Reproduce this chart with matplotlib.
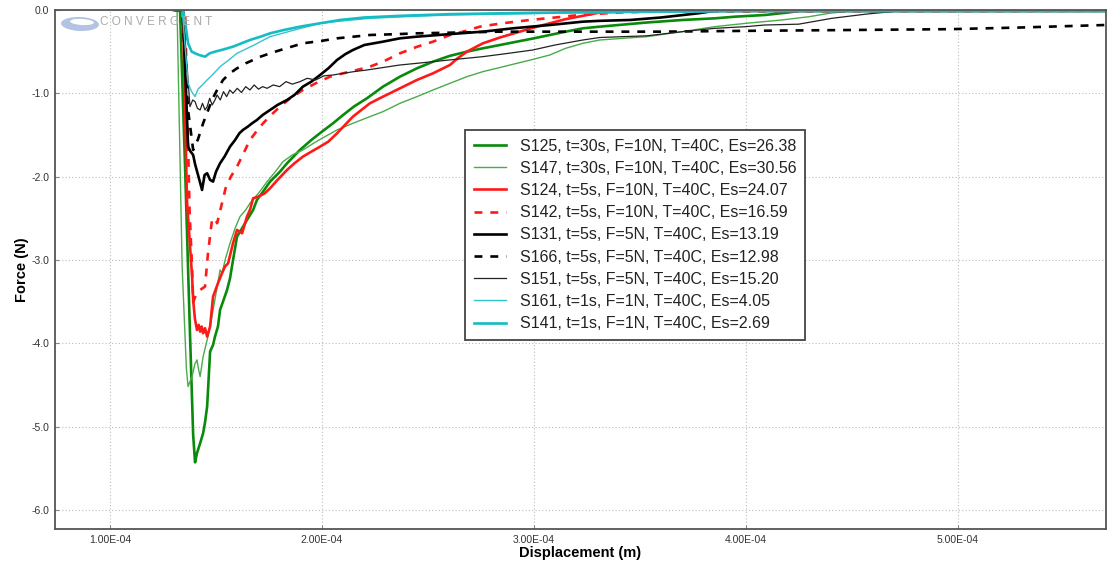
import matplotlib
matplotlib.use("Agg")
import matplotlib.pyplot as plt
from matplotlib.ticker import FuncFormatter, FixedLocator
from matplotlib.patches import Ellipse
import numpy as np

plt.rcParams['font.family'] = ['Liberation Sans', 'DejaVu Sans']
plt.rcParams['axes.unicode_minus'] = False

# Displacement in units of 1e-4 m, force in N
s125_x = [1.300, 1.330, 1.354, 1.377, 1.392, 1.401, 1.410, 1.415, 1.425, 1.439, 1.448, 1.458, 1.472, 1.486,
          1.495, 1.509, 1.519, 1.533, 1.552, 1.566, 1.575, 1.599, 1.623, 1.646, 1.675, 1.693, 1.722, 1.755,
          1.802, 1.835, 1.896, 1.950, 2.000, 2.052, 2.100, 2.150, 2.212, 2.288, 2.368, 2.448, 2.524, 2.604,
          2.684, 2.759, 2.840, 2.920, 3.000, 3.075, 3.150, 3.231, 3.311, 3.400, 3.533, 3.700, 3.854, 3.950,
          4.090, 4.200, 4.255, 5.698]
s125_y = [0.00, 0.00, -1.90, -3.88, -5.10, -5.43, -5.32, -5.28, -5.20, -5.08, -4.95, -4.76, -4.10, -4.02,
          -3.92, -3.80, -3.60, -3.50, -3.36, -3.22, -3.08, -2.72, -2.62, -2.52, -2.40, -2.28, -2.18, -2.06,
          -1.94, -1.84, -1.68, -1.56, -1.46, -1.36, -1.26, -1.16, -1.06, -0.92, -0.80, -0.70, -0.62, -0.55,
          -0.50, -0.46, -0.42, -0.38, -0.34, -0.30, -0.26, -0.22, -0.20, -0.18, -0.15, -0.12, -0.10, -0.08,
          -0.06, -0.03, -0.01, -0.01]

s147_x = [1.290, 1.316, 1.340, 1.360, 1.368, 1.377, 1.387, 1.400, 1.410, 1.418, 1.425, 1.439, 1.458, 1.472,
          1.486, 1.500, 1.519, 1.528, 1.545, 1.566, 1.590, 1.613, 1.640, 1.660, 1.700, 1.741, 1.780, 1.816,
          1.860, 1.910, 1.960, 2.000, 2.071, 2.146, 2.226, 2.288, 2.368, 2.448, 2.524, 2.604, 2.684, 2.759,
          2.840, 2.920, 3.000, 3.075, 3.150, 3.231, 3.311, 3.420, 3.533, 3.700, 3.854, 4.000, 4.170, 4.300,
          4.392, 4.500, 5.698]
s147_y = [0.00, 0.00, -3.08, -4.30, -4.52, -4.46, -4.40, -4.25, -4.20, -4.32, -4.40, -4.16, -3.96, -3.80,
          -3.60, -3.40, -3.12, -3.16, -2.98, -2.80, -2.62, -2.48, -2.40, -2.32, -2.20, -2.06, -1.94, -1.82,
          -1.74, -1.68, -1.60, -1.54, -1.44, -1.36, -1.28, -1.22, -1.12, -1.04, -0.96, -0.88, -0.80, -0.74,
          -0.69, -0.64, -0.59, -0.54, -0.46, -0.40, -0.36, -0.34, -0.32, -0.26, -0.20, -0.16, -0.12, -0.08,
          -0.04, -0.01, -0.01]

s124_x = [1.310, 1.344, 1.363, 1.387, 1.392, 1.400, 1.410, 1.418, 1.425, 1.432, 1.439, 1.448, 1.458, 1.465,
          1.472, 1.486, 1.509, 1.525, 1.542, 1.557, 1.580, 1.599, 1.623, 1.646, 1.660, 1.675, 1.700, 1.730,
          1.755, 1.790, 1.835, 1.870, 1.910, 1.950, 1.991, 2.030, 2.071, 2.146, 2.226, 2.288, 2.368, 2.448,
          2.524, 2.604, 2.640, 2.684, 2.759, 2.840, 2.920, 3.000, 3.075, 3.150, 3.231, 3.311, 3.500, 5.698]
s124_y = [0.00, 0.00, -2.30, -3.20, -3.48, -3.70, -3.84, -3.78, -3.86, -3.80, -3.88, -3.82, -3.92, -3.86,
          -3.80, -3.44, -3.28, -3.18, -3.08, -3.04, -2.80, -2.64, -2.68, -2.48, -2.40, -2.26, -2.24, -2.20,
          -2.14, -2.04, -1.92, -1.84, -1.76, -1.70, -1.64, -1.58, -1.48, -1.28, -1.12, -1.04, -0.94, -0.84,
          -0.76, -0.66, -0.58, -0.50, -0.40, -0.33, -0.27, -0.21, -0.16, -0.11, -0.07, -0.03, -0.01, -0.01]

s142_x = [1.310, 1.354, 1.375, 1.387, 1.392, 1.405, 1.425, 1.448, 1.462, 1.481, 1.495, 1.505, 1.528, 1.545,
          1.570, 1.599, 1.630, 1.660, 1.690, 1.722, 1.760, 1.802, 1.850, 1.910, 1.970, 2.038, 2.100, 2.165,
          2.226, 2.288, 2.368, 2.450, 2.524, 2.604, 2.680, 2.745, 2.850, 2.981, 3.100, 3.217, 3.400, 3.547,
          5.698]
s142_y = [0.00, 0.00, -2.40, -3.10, -3.51, -3.42, -3.36, -3.32, -2.92, -2.52, -2.50, -2.56, -2.32, -2.14,
          -2.00, -1.88, -1.72, -1.56, -1.46, -1.36, -1.26, -1.16, -1.06, -0.96, -0.88, -0.80, -0.76, -0.72,
          -0.68, -0.62, -0.52, -0.44, -0.38, -0.30, -0.25, -0.20, -0.16, -0.12, -0.09, -0.06, -0.03, -0.02,
          -0.01]

s131_x = [1.310, 1.344, 1.368, 1.380, 1.392, 1.401, 1.415, 1.434, 1.446, 1.458, 1.472, 1.486, 1.500, 1.519,
          1.540, 1.566, 1.590, 1.610, 1.627, 1.650, 1.670, 1.693, 1.720, 1.755, 1.790, 1.835, 1.870, 1.910,
          1.950, 1.991, 2.030, 2.071, 2.110, 2.146, 2.200, 2.288, 2.368, 2.448, 2.600, 2.759, 2.900, 3.075,
          3.231, 3.311, 3.453, 3.600, 3.774, 3.854, 5.698]
s131_y = [0.00, 0.00, -1.64, -1.70, -1.74, -1.85, -1.98, -2.16, -1.98, -1.96, -2.04, -2.06, -1.94, -1.84,
          -1.76, -1.64, -1.56, -1.48, -1.44, -1.40, -1.36, -1.32, -1.26, -1.20, -1.14, -1.08, -1.02, -0.92,
          -0.86, -0.78, -0.70, -0.60, -0.53, -0.48, -0.42, -0.38, -0.34, -0.32, -0.29, -0.26, -0.22, -0.18,
          -0.14, -0.13, -0.12, -0.09, -0.04, -0.01, -0.01]

s166_x = [1.300, 1.340, 1.368, 1.392, 1.415, 1.439, 1.460, 1.481, 1.505, 1.533, 1.565, 1.599, 1.640, 1.675,
          1.710, 1.755, 1.830, 1.910, 2.000, 2.071, 2.150, 2.226, 2.350, 2.448, 2.650, 2.840, 3.100, 3.311,
          3.600, 4.019, 4.500, 4.962, 5.300, 5.698]
s166_y = [0.00, 0.00, -1.20, -1.68, -1.55, -1.36, -1.22, -1.08, -0.96, -0.84, -0.76, -0.70, -0.64, -0.60,
          -0.56, -0.52, -0.46, -0.40, -0.37, -0.34, -0.32, -0.30, -0.29, -0.28, -0.27, -0.26, -0.26, -0.26,
          -0.26, -0.25, -0.24, -0.23, -0.21, -0.18]

s151_x = [1.300, 1.344, 1.377, 1.390, 1.401, 1.412, 1.425, 1.436, 1.448, 1.458, 1.470, 1.482, 1.495, 1.505,
          1.520, 1.535, 1.550, 1.565, 1.580, 1.600, 1.620, 1.640, 1.660, 1.680, 1.700, 1.720, 1.741, 1.770,
          1.800, 1.830, 1.860, 1.896, 1.930, 1.970, 2.010, 2.052, 2.100, 2.150, 2.212, 2.290, 2.368, 2.448,
          2.600, 2.759, 2.880, 2.995, 3.100, 3.231, 3.311, 3.420, 3.533, 3.700, 3.854, 4.000, 4.090, 4.250,
          4.406, 4.566, 4.726, 5.698]
s151_y = [0.00, 0.00, -1.16, -1.08, -1.10, -1.18, -1.20, -1.12, -1.20, -1.16, -1.06, -1.14, -1.08, -1.02,
          -1.08, -0.98, -1.04, -0.96, -1.00, -0.94, -0.99, -0.92, -0.96, -0.90, -0.95, -0.92, -0.94, -0.90,
          -0.92, -0.86, -0.89, -0.86, -0.82, -0.84, -0.79, -0.78, -0.76, -0.74, -0.72, -0.69, -0.66, -0.64,
          -0.60, -0.56, -0.52, -0.48, -0.42, -0.36, -0.33, -0.32, -0.31, -0.26, -0.22, -0.20, -0.18, -0.17,
          -0.10, -0.05, -0.01, -0.01]

s161_x = [1.300, 1.340, 1.368, 1.385, 1.401, 1.415, 1.435, 1.458, 1.490, 1.519, 1.560, 1.599, 1.680, 1.755,
          1.870, 1.991, 2.100, 2.226, 2.400, 2.604, 2.840, 3.075, 3.500, 4.000, 4.500, 5.698]
s161_y = [0.00, 0.00, -0.88, -0.98, -1.04, -0.95, -0.90, -0.84, -0.76, -0.68, -0.60, -0.52, -0.42, -0.32,
          -0.24, -0.16, -0.13, -0.10, -0.08, -0.06, -0.05, -0.04, -0.03, -0.02, -0.02, -0.02]

s141_x = [1.300, 1.344, 1.354, 1.368, 1.385, 1.401, 1.420, 1.448, 1.470, 1.495, 1.540, 1.580, 1.620, 1.660,
          1.710, 1.755, 1.820, 1.896, 1.990, 2.085, 2.200, 2.368, 2.600, 2.840, 3.100, 3.311, 4.000, 5.698]
s141_y = [0.00, 0.00, -0.14, -0.40, -0.50, -0.52, -0.54, -0.56, -0.52, -0.50, -0.47, -0.44, -0.40, -0.36,
          -0.32, -0.28, -0.24, -0.20, -0.16, -0.12, -0.09, -0.07, -0.05, -0.04, -0.03, -0.02, -0.01, -0.01]

labels = ["S125, t=30s, F=10N, T=40C, Es=26.38",
          "S147, t=30s, F=10N, T=40C, Es=30.56",
          "S124, t=5s, F=10N, T=40C, Es=24.07",
          "S142, t=5s, F=10N, T=40C, Es=16.59",
          "S131, t=5s, F=5N, T=40C, Es=13.19",
          "S166, t=5s, F=5N, T=40C, Es=12.98",
          "S151, t=5s, F=5N, T=40C, Es=15.20",
          "S161, t=1s, F=1N, T=40C, Es=4.05",
          "S141, t=1s, F=1N, T=40C, Es=2.69"]

x_ticks_e4 = [1, 2, 3, 4, 5]
y_ticks = [0.0, -1.0, -2.0, -3.0, -4.0, -5.0, -6.0]

series = [
    (s125_x, s125_y, dict(color='#0a8a0a', lw=1.9, ls='-')),
    (s147_x, s147_y, dict(color='#4aab4a', lw=1.0, ls='-')),
    (s124_x, s124_y, dict(color='#ff1a1a', lw=1.9, ls='-')),
    (s142_x, s142_y, dict(color='#ff1a1a', lw=1.9, ls=(0, (3, 3)))),
    (s131_x, s131_y, dict(color='#000000', lw=1.9, ls='-')),
    (s166_x, s166_y, dict(color='#000000', lw=1.9, ls=(0, (3, 3)))),
    (s151_x, s151_y, dict(color='#222222', lw=0.9, ls='-')),
    (s161_x, s161_y, dict(color='#35c5cf', lw=1.0, ls='-')),
    (s141_x, s141_y, dict(color='#15bcc4', lw=1.9, ls='-')),
]

fig = plt.figure(figsize=(11.08, 5.64), dpi=100)
ax = fig.add_axes([55 / 1108, 35 / 564, 1051 / 1108, 519 / 564])

for (xs, ys, st), lab in zip(series, labels):
    ax.plot(np.array(xs) * 1e-4, ys, label=lab, solid_joinstyle='round', **st)

ax.set_xlim(0.74e-4, 5.70e-4)
ax.set_ylim(-6.23, 0.0)
ax.xaxis.set_major_locator(FixedLocator([v * 1e-4 for v in x_ticks_e4]))
ax.yaxis.set_major_locator(FixedLocator(y_ticks))
ax.xaxis.set_major_formatter(FuncFormatter(lambda v, p: f"{v:.2E}"))
ax.yaxis.set_major_formatter(FuncFormatter(lambda v, p: f"{v:.1f}"))
ax.tick_params(axis='both', labelsize=7.5, labelcolor='#333333', direction='in', length=3,
               color='#888888', pad=4)
ax.grid(True, color='#bbbbbb', ls=(0, (1, 2)), lw=0.8)
for sp in ax.spines.values():
    sp.set_color('#555555')
    sp.set_linewidth(1.3)

ax.set_xlabel("Displacement (m)", fontsize=10.5, fontweight='bold', labelpad=1)
ax.set_ylabel("Force (N)", fontsize=10.5, fontweight='bold', labelpad=2)

leg = ax.legend(loc='upper left', bbox_to_anchor=(0.390, 0.769), borderaxespad=0,
                fontsize=11.5, fancybox=False, framealpha=1, edgecolor='#444444',
                handlelength=2.0, handletextpad=0.9, labelspacing=0.45, borderpad=0.55)
leg.get_frame().set_linewidth(1.3)
for t in leg.get_texts():
    t.set_color('#222222')

# logo
fig.add_artist(Ellipse((80 / 1108, 1 - 24 / 564), 38 / 1108, 14 / 564, angle=-8,
                       transform=fig.transFigure, facecolor='#9fb4dd', edgecolor='none', alpha=0.8))
fig.add_artist(Ellipse((82 / 1108, 1 - 22 / 564), 24 / 1108, 6 / 564, angle=-8,
                       transform=fig.transFigure, facecolor='white', edgecolor='none'))
fig.text(100 / 1108, 1 - 22 / 564, "C O N V E R G E N T", fontsize=8.5, color='#aaaaaa',
         va='center', ha='left')

fig.savefig("out.png", dpi=100)
